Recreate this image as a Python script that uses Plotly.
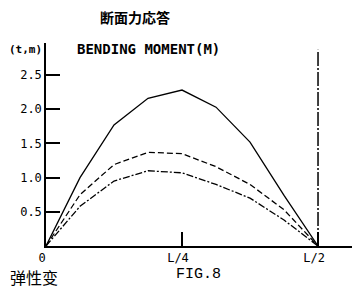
import plotly.graph_objects as go

# Data (x in units of span L; moments in t·m)
x_pos = [0, 1/16, 2/16, 3/16, 4/16, 5/16, 6/16, 7/16, 8/16]
solid_vals = [0, 1.00, 1.77, 2.16, 2.28, 2.03, 1.52, 0.74, 0]
dashed_vals = [0, 0.75, 1.19, 1.37, 1.35, 1.16, 0.90, 0.53, 0]
dashdot_vals = [0, 0.58, 0.95, 1.10, 1.07, 0.90, 0.70, 0.38, 0]

x_tickvals = [0, 0.25, 0.5]
x_ticktext = ["0", "L/4", "L/2"]
y_tickvals = [0.5, 1.0, 1.5, 2.0, 2.5]
y_ticktext = ["0.5", "1.0", "1.5", "2.0", "2.5"]

sym_x = [0.5, 0.5]
sym_y = [0, 2.87]

mono = "DejaVu Sans Mono"

# page has an 8px default body margin; figure is sized to fit inside the window
fig = go.Figure()
fig.add_trace(go.Scatter(x=x_pos, y=solid_vals, mode="lines",
                         line=dict(color="black", width=1.3), showlegend=False))
fig.add_trace(go.Scatter(x=x_pos, y=dashed_vals, mode="lines",
                         line=dict(color="black", width=1.3, dash="6px,3px"), showlegend=False))
fig.add_trace(go.Scatter(x=x_pos, y=dashdot_vals, mode="lines",
                         line=dict(color="black", width=1.3, dash="7px,2px,2px,2px"), showlegend=False))
fig.add_trace(go.Scatter(x=sym_x, y=sym_y, mode="lines",
                         line=dict(color="black", width=1.5, dash="14px,2px,2px,2px"), showlegend=False))

fig.update_layout(
    width=352, height=281,
    margin=dict(l=38, r=7, t=35, b=43, pad=0),
    paper_bgcolor="white", plot_bgcolor="white",
    xaxis=dict(range=[0, 0.5643], showgrid=False, zeroline=False,
               showline=True, linecolor="black", linewidth=1.5,
               tickvals=x_tickvals, ticktext=x_ticktext,
               ticks="inside", ticklen=14, tickwidth=1.5, tickcolor="black",
               tickfont=dict(family=mono, size=12, color="black"),
               ticklabelshift=-4),
    yaxis=dict(range=[0, 2.968], showgrid=False, zeroline=False,
               showline=True, linecolor="black", linewidth=1.5,
               tickvals=y_tickvals, ticktext=y_ticktext,
               ticks="inside", ticklen=14, tickwidth=1.5, tickcolor="black",
               tickfont=dict(family=mono, size=12, color="black")),
    annotations=[
        dict(text="<b>断面力応答</b>", xref="paper", yref="paper",
             x=(135 - 46) / 307, y=(246 - 17) / 203,
             xanchor="center", yanchor="middle", showarrow=False,
             font=dict(family="Noto Sans CJK JP", size=14, color="black")),
        dict(text="<b>(t,m)</b>", xref="paper", yref="paper",
             x=(44 - 46) / 307, y=(246 - 50) / 203, xanchor="right", yanchor="middle",
             showarrow=False, font=dict(family=mono, size=11, color="black")),
        dict(text="<b>BENDING MOMENT(M)</b>", xref="paper", yref="paper",
             x=(75 - 46) / 307, y=(246 - 49) / 203, xanchor="left", yanchor="middle",
             showarrow=False, font=dict(family=mono, size=14, color="black")),
        dict(text="FIG.8", xref="paper", yref="paper",
             x=(198 - 46) / 307, y=(246 - 274) / 203, xanchor="center", yanchor="middle",
             showarrow=False, font=dict(family="Liberation Mono", size=15, color="black")),
        dict(text="弹性变", xref="paper", yref="paper",
             x=(8 - 46) / 307, y=(246 - 277) / 203, xanchor="left", yanchor="middle",
             showarrow=False, font=dict(family="Noto Sans CJK SC", size=16, color="black")),
    ],
)

fig.write_html("out.html")
